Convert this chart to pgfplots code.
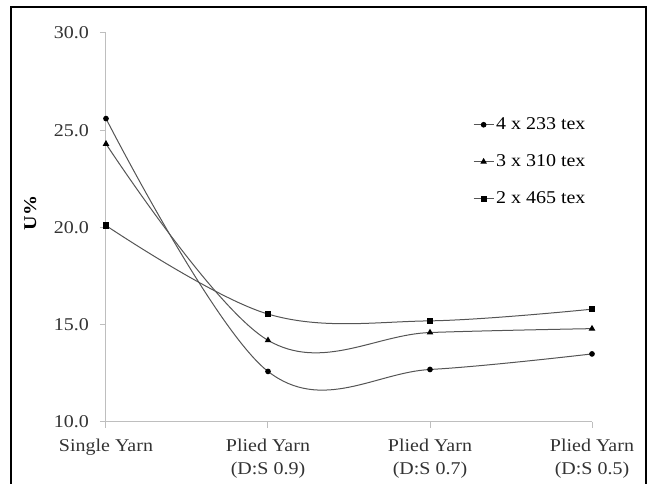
\documentclass[border=0pt]{standalone}
\usepackage{pgfplots}
\pgfplotsset{compat=1.18}
\usepackage{fontspec}
\setmainfont{Liberation Serif}[FakeStretch=1.11]
\definecolor{linegray}{RGB}{85,85,85}
\definecolor{axgray}{RGB}{190,190,190}
\begin{document}
\begin{tikzpicture}[x=1pt,y=1pt]
\useasboundingbox (0,0) rectangle (649,484);
\draw[line width=2pt] (11,-10) rectangle (646,477);
\begin{axis}[
  at={(106pt,62pt)}, anchor=south west,
  scale only axis, width=486pt, height=389pt,
  xmin=0, xmax=3, ymin=10, ymax=30,
  xtick={0,1,2,3},
  xticklabels={Single Yarn,{Plied Yarn\\(D:S 0.9)},{Plied Yarn\\(D:S 0.7)},{Plied Yarn\\(D:S 0.5)}},
  ytick={10,15,20,25,30},
  axis x line*=bottom, axis y line*=left,
  axis line style={axgray, line width=1pt},
  tick style={axgray, line width=1pt},
  tick align=outside, major tick length=6pt,
  /pgf/number format/assume math mode=true,
  yticklabel={\pgfmathprintnumber[fixed,fixed zerofill,precision=1]{\tick}},
  every tick label/.append style={font=\fontsize{18}{22.5}\selectfont, text=black!80},
  xticklabel style={align=center, inner sep=2pt, yshift=-9pt},
  yticklabel style={inner sep=2pt, xshift=-9pt},
  every axis y label/.style={at={(axis description cs:-0.156,0.537)}, rotate=90, anchor=center, font=\fontsize{18}{20}\selectfont},
  ylabel={\textbf{U\%}},
  legend style={draw=none, fill=none, at={(axis description cs:0.755,0.787)}, anchor=north west,
    font=\fontsize{18}{20}\selectfont, row sep=19.5pt, inner sep=0pt},
  legend cell align=left,
  legend image code/.code={\draw[mark repeat=2,mark phase=2,#1] plot coordinates {(0pt,0pt) (10pt,0pt) (20pt,0pt)};},
  clip=false,
]
\addplot[linegray, line width=1pt, smooth, tension=0.6, mark=*, mark size=2.3pt, mark options={black, fill=black, solid}]
  coordinates {(0,25.6) (1,12.6) (2,12.7) (3,13.5)};
\addlegendentry{4 x 233 tex}
\addplot[linegray, line width=1pt, smooth, tension=0.6, mark=triangle*, mark size=2.8pt, mark options={black, fill=black, solid}]
  coordinates {(0,24.3) (1,14.2) (2,14.6) (3,14.8)};
\addlegendentry{3 x 310 tex}
\addplot[linegray, line width=1pt, smooth, tension=0.6, mark=square*, mark size=2.6pt, mark options={black, fill=black, solid}]
  coordinates {(0,20.1) (1,15.55) (2,15.2) (3,15.8)};
\addlegendentry{2 x 465 tex}
\end{axis}
\end{tikzpicture}
\end{document}
